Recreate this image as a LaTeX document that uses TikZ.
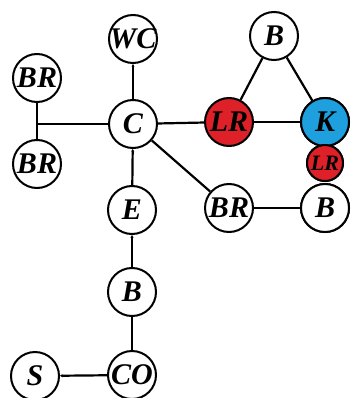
\documentclass[tikz,border=0pt]{standalone}
\usepackage{fontspec}
\setmainfont{Liberation Serif}
\usetikzlibrary{arrows.meta}
\definecolor{lrred}{RGB}{222,32,40}
\definecolor{kblue}{RGB}{30,160,222}
\begin{document}
\begin{tikzpicture}[x=1pt,y=-1pt,
  st/.style={circle,draw=black,line width=2pt,fill=white,minimum size=48pt,inner sep=0pt,
    font=\fontsize{30}{30}\selectfont\bfseries\itshape},
  redst/.style={st,fill=lrred},
  bluest/.style={st,fill=kblue},
  smallst/.style={st,fill=lrred,minimum size=36pt,font=\fontsize{22}{22}\selectfont\bfseries\itshape},
  ln/.style={line width=2.2pt},
  tip/.style={ln,-{Latex[length=2.5pt,width=3.5pt]}}]
\useasboundingbox (0,0) rectangle (350,398);
\node[st] (WC) at (133,39) {\kern-2pt WC\kern-2pt};
\node[st] (BR1) at (37,78) {BR};
\node[st] (BR2) at (37,164) {BR};
\node[st] (C) at (133,124) {C};
\node[st] (E) at (132,210) {E};
\node[st] (B1) at (132,292) {B};
\node[st] (CO) at (132,375) {\kern-2pt CO\kern-2pt};
\node[st] (S) at (35,376) {S};
\node[st] (B2) at (274,36) {B};
\node[redst] (LR) at (229,122) {LR};
\node[bluest] (K) at (325,122) {K};
\node[smallst] (LR2) at (325,163) {LR};
\node[st] (BR3) at (229,208) {BR};
\node[st] (B3) at (325,208) {B};
\coordinate (J) at (BR1.south |- C.west);
\draw[ln] (BR1) -- (BR2);
\draw[ln] (J) -- (C);
\draw[tip] (C) -- (WC);
\draw[ln] (C) -- (LR);
\draw[ln] (LR) -- (K);
\draw[ln] (B2) -- (LR);
\draw[ln] (B2) -- (K);
\draw[ln] (C) -- (BR3);
\draw[ln] (BR3) -- (B3);
\draw[tip] (E) -- (C);
\draw[tip] (B1) -- (E);
\draw[ln] (B1) -- (CO);
\draw[tip] (CO) -- (S);
\node[bluest] at (K) {K};
\node[smallst] at (LR2) {LR};
\node[st] at (B3) {B};
\end{tikzpicture}
\end{document}
